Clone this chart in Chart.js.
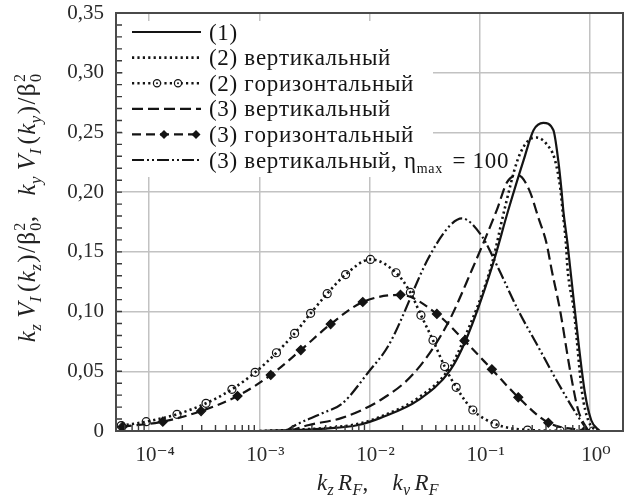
<!DOCTYPE html>
<html><head><meta charset="utf-8">
<script src="https://cdn.jsdelivr.net/npm/chart.js@4.4.0/dist/chart.umd.min.js"></script>
<style>html,body{margin:0;padding:0;background:#fff}#wrap{width:632px;height:495px}</style>
</head><body><div id="wrap"><canvas id="c" width="632" height="495"></canvas></div>
<script>
// ---- tick labels ----
const xTickValues = [1e-4, 1e-3, 1e-2, 1e-1, 1];
const xTickLabels = ['10⁻⁴', '10⁻³', '10⁻²', '10⁻¹', '10⁰'];
const yTickValues = [0, 0.05, 0.10, 0.15, 0.20, 0.25, 0.30, 0.35];
const yTickLabels = ['0', '0,05', '0,10', '0,15', '0,20', '0,25', '0,30', '0,35'];

// ---- series names ----
const seriesNames = ['(1)', '(2) вертикальный', '(2) горизонтальный', '(3) вертикальный', '(3) горизонтальный', '(3) вертикальный, η'];

// ---- (1) ----
const s1X = [0.001, 0.0020, 0.0040, 0.0079, 0.0126, 0.0279, 0.0541, 0.0748, 0.129, 0.182, 0.251, 0.309, 0.378, 0.466, 0.516, 0.553, 0.574, 0.627, 0.659, 0.731, 0.902, 1.03, 1.23];
const s1Y = [0, 0.0008, 0.002, 0.005, 0.011, 0.026, 0.051, 0.076, 0.137, 0.185, 0.227, 0.252, 0.258, 0.252, 0.227, 0.2017, 0.185, 0.157, 0.139, 0.101, 0.032, 0.009, 0];

// ---- (2) vertical ----
const s2vX = [0.001, 0.002, 0.004, 0.0079, 0.0126, 0.0279, 0.0537, 0.0713, 0.129, 0.1675, 0.221, 0.275, 0.329, 0.407, 0.482, 0.542, 0.565, 0.607, 0.626, 0.716, 0.851, 0.966, 1.15];
const s2vY = [0, 0.001, 0.0025, 0.006, 0.012, 0.028, 0.053, 0.076, 0.14, 0.185, 0.227, 0.243, 0.2457, 0.240, 0.227, 0.2017, 0.185, 0.157, 0.137, 0.101, 0.032, 0.009, 0];

// ---- (2) horizontal ----
const s2hX = [5.58e-5, 9.4e-5, 1.79e-4, 3.28e-4, 5.64e-4, 9.16e-4, 1.43e-3, 2.09e-3, 2.92e-3, 4.13e-3, 6.07e-3, 1.02e-2, 1.74e-2, 2.35e-2, 2.93e-2, 3.77e-2, 4.81e-2, 6.12e-2, 8.67e-2, 0.138, 0.272, 0.537, 1.07];
const s2hY = [0.0045, 0.0078, 0.014, 0.0232, 0.0349, 0.0491, 0.0655, 0.0817, 0.0985, 0.115, 0.131, 0.1437, 0.1325, 0.116, 0.097, 0.076, 0.054, 0.0366, 0.0176, 0.0059, 0.0008, 0.0002, 0];

// ---- (3) vertical ----
const s3vX = [0.00186, 0.00282, 0.00562, 0.0126, 0.0251, 0.0504, 0.0851, 0.143, 0.178, 0.224, 0.282, 0.340, 0.405, 0.450, 0.537, 0.661, 0.783, 0.966];
const s3vY = [0, 0.005, 0.011, 0.026, 0.048, 0.0887, 0.135, 0.185, 0.2086, 0.214, 0.2017, 0.179, 0.157, 0.135, 0.101, 0.051, 0.0176, 0];

// ---- (3) horizontal ----
const s3hX = [5.74e-5, 1.33e-4, 2.96e-4, 6.34e-4, 1.27e-3, 2.38e-3, 4.44e-3, 8.69e-3, 1.91e-2, 4.09e-2, 7.28e-2, 0.129, 0.224, 0.42, 0.90];
const s3hY = [0.0036, 0.0078, 0.0167, 0.0293, 0.0469, 0.0678, 0.0895, 0.108, 0.114, 0.098, 0.0756, 0.0516, 0.0282, 0.0069, 0.0003];

// ---- (3) vertical, eta_max = 100 ----
const s3eX = [0.00174, 0.00214, 0.00372, 0.00565, 0.00984, 0.01496, 0.0344, 0.0525, 0.0689, 0.105, 0.148, 0.224, 0.340, 0.516, 0.783, 0.966];
const s3eY = [0, 0.005, 0.0148, 0.023, 0.0496, 0.072, 0.145, 0.171, 0.178, 0.163, 0.136, 0.101, 0.0705, 0.040, 0.012, 0];

const pairs = (xs, ys) => xs.map((x, i) => ({x: x, y: ys[i]}));
const INK = '#141414';
const SERIF = '"Liberation Serif", "DejaVu Serif", serif';

const styles = [
  {dash: [], w: 2.2, pt: false},
  {dash: [2.2, 3.2], w: 2.6, pt: false},
  {dash: [2.2, 3.2], w: 2.6, pt: 'circle'},
  {dash: [11, 5], w: 2.2, pt: false},
  {dash: [9, 5], w: 2.2, pt: 'rectRot'},
  {dash: [12, 3, 2, 3, 2, 3], w: 2.2, pt: false}
];
const allData = [pairs(s1X, s1Y), pairs(s2vX, s2vY), pairs(s2hX, s2hY), pairs(s3vX, s3vY), pairs(s3hX, s3hY), pairs(s3eX, s3eY)];

const datasets = allData.map((d, i) => {
  const st = styles[i];
  return {
    label: seriesNames[i], data: d,
    borderColor: INK, borderWidth: st.w, borderDash: st.dash,
    cubicInterpolationMode: 'monotone', fill: false,
    pointRadius: st.pt ? (st.pt === 'circle' ? 4 : 4.5) : 0,
    pointStyle: st.pt || 'circle',
    pointBorderColor: INK, pointBorderWidth: 1.2,
    pointBackgroundColor: st.pt === 'rectRot' ? INK : 'rgba(0,0,0,0)'
  };
});

// ---- rich text (char-by-char with spacing) ----
function segFont(s, size) {
  const sz = (s.b || s.p) ? Math.round(size * (s.sm || 0.68)) : size;
  return `${s.i ? 'italic ' : ''}${sz}px ${SERIF}`;
}
function segWidth(ctx, s, size, sp) {
  if (s.ss) {
    ctx.font = `${Math.round(size * 0.62)}px ${SERIF}`;
    return Math.max(ctx.measureText(s.ss[0]).width, ctx.measureText(s.ss[1]).width) + 1 + sp;
  }
  ctx.font = segFont(s, size);
  let w = 0;
  for (const ch of s.t) w += ctx.measureText(ch).width + sp;
  return w + (s.gap || 0);
}
function richWidth(ctx, segs, size, sp) {
  return segs.reduce((a, s) => a + segWidth(ctx, s, size, sp), 0);
}
function drawRich(ctx, segs, size, x, y, sp) {
  let cx = x;
  for (const s of segs) {
    if (s.ss) {
      const sz = Math.round(size * 0.62);
      ctx.font = `${sz}px ${SERIF}`;
      ctx.fillText(s.ss[0], cx + 1, y + size * 0.25);
      ctx.fillText(s.ss[1], cx + 1, y - size * 0.42);
      cx += Math.max(ctx.measureText(s.ss[0]).width, ctx.measureText(s.ss[1]).width) + 1 + sp;
    } else {
      ctx.font = segFont(s, size);
      const dy = s.b ? size * 0.22 : (s.p ? -size * 0.4 : 0);
      for (const ch of s.t) {
        ctx.fillText(ch, cx, y + dy);
        cx += ctx.measureText(ch).width + sp;
      }
      cx += (s.gap || 0);
    }
  }
}

const yTitle = [
  {t:'k', i:1}, {t:'z', i:1, b:1, gap:6}, {t:'V', i:1}, {t:'I', i:1, b:1, gap:4}, {t:'(', gap:1}, {t:'k', i:1}, {t:'z', i:1, b:1, gap:1}, {t:')', gap:1}, {t:'/', gap:1}, {t:'β'}, {ss:['0','2']},
  {t:',', gap:20},
  {t:'k', i:1}, {t:'y', i:1, b:1, gap:6}, {t:'V', i:1}, {t:'I', i:1, b:1, gap:4}, {t:'(', gap:1}, {t:'k', i:1}, {t:'y', i:1, b:1, gap:1}, {t:')', gap:1}, {t:'/', gap:1}, {t:'β'}, {ss:['0','2']}
];
const xTitle = [
  {t:'k', i:1}, {t:'z', i:1, b:1, gap:4}, {t:'R', i:1}, {t:'F', i:1, b:1}, {t:',', gap:24},
  {t:'k', i:1}, {t:'y', i:1, b:1, gap:4}, {t:'R', i:1}, {t:'F', i:1, b:1}
];

const decor = {
  id: 'decor',
  beforeDatasetsDraw(chart) {
    const ctx = chart.ctx;
    ctx.save();
    ctx.fillStyle = '#fff';
    ctx.fillRect(123, 21, 310, 156);
    ctx.restore();
  },
  afterDraw(chart) {
    const ctx = chart.ctx, a = chart.chartArea;
    const xs = chart.scales.x, ys = chart.scales.y;
    ctx.save();
    // inward minor ticks
    ctx.strokeStyle = '#3a3a3a'; ctx.lineWidth = 1.4; ctx.setLineDash([]);
    ctx.beginPath();
    for (let d = -5; d <= 0; d++) {
      for (let m = 2; m <= 9; m++) {
        const v = m * Math.pow(10, d);
        if (v <= xs.min || v >= xs.max) continue;
        const px = xs.getPixelForValue(v);
        ctx.moveTo(px, a.bottom); ctx.lineTo(px, a.bottom - 6);
      }
    }
    for (let k = 1; k < 35; k++) {
      const py = ys.getPixelForValue(k / 100);
      ctx.moveTo(a.left, py); ctx.lineTo(a.left + 6, py);
    }
    ctx.stroke();
    // frame
    ctx.strokeStyle = '#4a4a4a'; ctx.lineWidth = 2;
    ctx.strokeRect(a.left, a.top, a.right - a.left, a.bottom - a.top);

    // legend
    ctx.fillStyle = INK; ctx.strokeStyle = INK;
    ctx.textBaseline = 'alphabetic';
    const x0 = 132, x1 = 201;
    for (let i = 0; i < 6; i++) {
      const y = 32 + i * 25.6;
      const st = styles[i];
      ctx.lineWidth = st.w; ctx.setLineDash(st.dash);
      ctx.beginPath(); ctx.moveTo(x0, y); ctx.lineTo(x1, y); ctx.stroke();
      ctx.setLineDash([]);
      if (st.pt === 'circle') {
        for (const mx of [157, 178]) {
          ctx.lineWidth = 1.2; ctx.fillStyle = '#fff';
          ctx.beginPath(); ctx.arc(mx, y, 3.6, 0, Math.PI * 2); ctx.fill(); ctx.stroke();
          ctx.fillStyle = INK; ctx.beginPath(); ctx.arc(mx, y, 1, 0, Math.PI * 2); ctx.fill();
        }
      }
      if (st.pt === 'rectRot') {
        for (const mx of [164, 196]) {
          ctx.beginPath(); ctx.moveTo(mx, y - 4.5); ctx.lineTo(mx + 4.5, y); ctx.lineTo(mx, y + 4.5); ctx.lineTo(mx - 4.5, y); ctx.closePath(); ctx.fill();
        }
      }
      ctx.fillStyle = INK;
      const base = y + 7.5;
      if (i < 5) {
        drawRich(ctx, [{t: seriesNames[i]}], 23, 209, base, 0.7);
      } else {
        drawRich(ctx, [{t: seriesNames[i]}, {t:'max', b:1, sm:0.6, gap:3}, {t:' = 100'}], 23, 209, base, 0.7);
      }
    }

    // axis titles
    ctx.fillStyle = '#222';
    const xw = richWidth(ctx, xTitle, 23, 0.3);
    drawRich(ctx, xTitle, 23, 378 - xw / 2, 490, 0.3);
    ctx.translate(35, 208); ctx.rotate(-Math.PI / 2);
    const yw = richWidth(ctx, yTitle, 25, 0.4);
    drawRich(ctx, yTitle, 25, -yw / 2, 0, 0.4);
    ctx.restore();
  }
};

new Chart(document.getElementById('c'), {
  type: 'line',
  data: {datasets: datasets},
  options: {
    responsive: false, animation: false, devicePixelRatio: 1,
    layout: {padding: {top: 13, right: 9, left: 0, bottom: 0}},
    plugins: {legend: {display: false}, tooltip: {enabled: false}},
    scales: {
      x: {
        type: 'logarithmic', min: 5e-5, max: 2,
        afterBuildTicks: s => { s.ticks = xTickValues.map(v => ({value: v})); },
        afterFit: s => { s.height = 64; s.paddingLeft = 0; s.paddingRight = 0; },
        ticks: {callback: (v, i) => xTickLabels[i], font: {family: SERIF, size: 21}, color: '#2a2a2a', padding: 12, labelOffset: 6, maxRotation: 0, autoSkip: false},
        grid: {color: '#c2c2c2', lineWidth: 1.5, drawTicks: false},
        border: {display: true, color: '#4a4a4a', width: 2}
      },
      y: {
        min: 0, max: 0.35,
        afterBuildTicks: s => { s.ticks = yTickValues.map(v => ({value: v})); },
        afterFit: s => { s.width = 116; s.paddingTop = 0; s.paddingBottom = 0; },
        ticks: {callback: (v, i) => yTickLabels[i], font: {family: SERIF, size: 21}, color: '#2a2a2a', padding: 12},
        grid: {color: '#c2c2c2', lineWidth: 1.5, drawTicks: false},
        border: {display: true, color: '#4a4a4a', width: 2}
      }
    }
  },
  plugins: [decor]
});
</script>
</body></html>
